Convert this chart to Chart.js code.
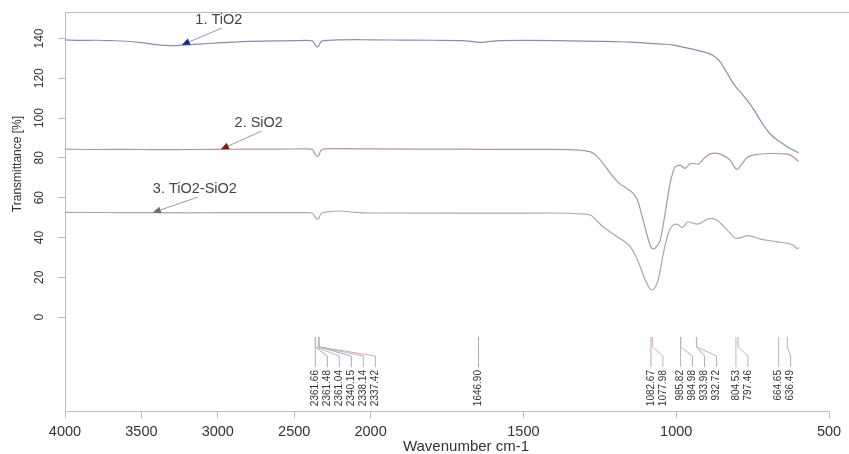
<!DOCTYPE html>
<html>
<head>
<meta charset="utf-8">
<script src="https://cdn.jsdelivr.net/npm/chart.js@4"></script>
<style>
  html, body { margin: 0; padding: 0; background: #fff; }
  #wrap { width: 849px; height: 454px; }
</style>
</head>
<body>
<div id="wrap"><canvas id="ftir"></canvas></div>
<script>
// ---- data ----
const tio2Wn = [4000, 3900, 3800, 3700, 3600, 3500, 3400, 3300, 3200, 3100,
                3000, 2900, 2800, 2700, 2600, 2500, 2420, 2380, 2365, 2350,
                2340, 2325, 2300, 2200, 2100, 2000, 1900, 1800, 1700, 1670,
                1645, 1620, 1590, 1500, 1400, 1300, 1200, 1150, 1100, 1050,
                1010, 944, 900, 882, 856, 835, 814, 790, 768, 745,
                725, 703, 683, 660, 637, 615, 600];
const tio2T  = [139.3, 139.0, 139.1, 138.9, 138.6, 137.9, 136.9, 136.4, 136.8, 137.3,
                137.8, 138.2, 138.5, 138.7, 138.8, 138.9, 139.0, 138.8, 137.0, 135.8,
                136.2, 138.4, 138.9, 139.3, 139.4, 139.3, 139.2, 139.1, 138.9, 138.5,
                138.0, 138.3, 138.8, 139.0, 138.9, 138.7, 138.4, 138.2, 137.7, 137.2,
                136.7, 134.5, 132.8, 131.7, 128.3, 123.0, 117.6, 113.0, 109.0, 104.0,
                99.0, 94.0, 90.6, 88.0, 85.6, 83.8, 82.5];

const sio2Wn = [4000, 3800, 3600, 3400, 3200, 3000, 2800, 2600, 2420, 2380,
                2365, 2350, 2340, 2325, 2300, 2200, 2000, 1800, 1600, 1400,
                1300, 1280, 1260, 1240, 1206, 1183, 1160, 1140, 1127, 1108,
                1095, 1082, 1074, 1064, 1052, 1036, 1020, 1003, 987, 971,
                958, 948, 928, 910, 889, 870, 850, 824, 801, 785,
                768, 748, 693, 637, 618, 600];
const sio2T  = [84.4, 84.2, 84.3, 84.1, 84.2, 84.3, 84.4, 84.4, 84.5, 84.3,
                82.0, 80.8, 81.2, 83.8, 84.5, 84.6, 84.5, 84.4, 84.3, 84.3,
                83.6, 83.0, 81.0, 77.4, 70.5, 66.8, 64.5, 62.0, 58.8, 48.7,
                41.0, 35.0, 34.2, 35.5, 38.7, 52.3, 67.2, 75.5, 76.4, 74.7,
                76.5, 77.2, 76.9, 79.5, 82.0, 82.4, 81.5, 78.9, 74.2, 77.0,
                80.2, 81.4, 82.2, 81.9, 80.6, 78.2];

const mixWn  = [4000, 3600, 3200, 2800, 2420, 2380, 2365, 2350, 2340, 2325,
                2300, 2200, 2100, 2000, 1600, 1400, 1300, 1280, 1240, 1193,
                1150, 1124, 1101, 1080, 1059, 1042, 1026, 1010, 997, 980,
                961, 931, 889, 866, 833, 801, 765, 725, 670, 618,
                603, 598];
const mixT   = [52.6, 52.5, 52.4, 52.5, 52.5, 52.3, 50.5, 49.2, 49.5, 52.0,
                52.6, 53.3, 52.6, 52.3, 52.2, 52.3, 51.7, 51.2, 45.4, 40.4,
                35.3, 27.8, 18.6, 13.6, 18.6, 32.0, 42.0, 46.2, 46.7, 45.0,
                47.9, 46.7, 49.6, 48.7, 43.7, 39.5, 40.9, 39.2, 37.8, 36.2,
                34.4, 35.0];

const seriesNames = ['1. TiO2', '2. SiO2', '3. TiO2-SiO2'];

// labelled peaks and the spectrum each belongs to (0 TiO2, 1 SiO2, 2 TiO2-SiO2)
const peakWn     = [2361.66, 2361.48, 2361.04, 2340.15, 2338.14, 2337.42, 1646.90,
                    1082.67, 1077.98, 985.82, 984.98, 933.98, 932.72,
                    804.53, 797.46, 664.65, 636.49];
const peakSeries = [1, 0, 2, 0, 2, 1, 0,
                    1, 2, 2, 1, 1, 2,
                    2, 1, 2, 1];

const xTicks = [4000, 3500, 3000, 2500, 2000, 1500, 1000, 500];
const yTicks = [0, 20, 40, 60, 80, 100, 120, 140];

// ---- styling ----
const FONT = "'Liberation Sans', Arial, sans-serif";
const AXIS = '#bdbdbd';
const lineColors  = ['#8a8db2', '#b2959b', '#a9a9a9'];
const arrowColors = ['#1f2d8f', '#7f1a1a', '#6f6f6f'];
const peakColors  = ['#a3a8c9', '#cda6ad', '#b8b8b8'];

// label anchor and arrow tip (wavenumber, transmittance) for each series tag
const tagAt = [
  { text: [2993, 149.2], tip: [3235, 136.8] },
  { text: [2732, 97.5],  tip: [2980, 84.3] },
  { text: [3150, 64.3],  tip: [3425, 52.5] }
];

// axis is compressed by 2 above 2000 cm-1
const toU = w => (w > 2000 ? 2000 + (w - 2000) / 2 : w);
const fromU = u => (u > 2000 ? 2000 + (u - 2000) * 2 : u);
const pts = (wn, t) => wn.map((w, i) => ({ x: toU(w), y: t[i] }));

const overlay = {
  id: 'overlay',
  afterDraw(chart) {
    const { ctx, chartArea: a, scales: { x, y } } = chart;
    ctx.save();

    // top frame line
    ctx.strokeStyle = AXIS;
    ctx.lineWidth = 1;
    ctx.beginPath();
    ctx.moveTo(a.left, a.top + 0.5);
    ctx.lineTo(chart.width, a.top + 0.5);
    ctx.stroke();

    // rotated y tick labels
    ctx.fillStyle = '#333';
    ctx.font = '12px ' + FONT;
    ctx.textAlign = 'center';
    ctx.textBaseline = 'middle';
    yTicks.forEach(v => {
      ctx.save();
      ctx.translate(a.left - 25, y.getPixelForValue(v));
      ctx.rotate(-Math.PI / 2);
      ctx.fillText(String(v), 0, 0);
      ctx.restore();
    });

    // axis titles
    ctx.save();
    ctx.translate(18, 164);
    ctx.rotate(-Math.PI / 2);
    ctx.fillText('Transmittance [%]', 0, 0);
    ctx.restore();
    ctx.font = '15px ' + FONT;
    ctx.fillText('Wavenumber cm-1', (a.left + a.right) / 2 + 19, 447);

    // series tags with arrows
    ctx.font = '14.5px ' + FONT;
    ctx.fillStyle = '#444';
    tagAt.forEach((t, i) => {
      const lx = x.getPixelForValue(toU(t.text[0]));
      const ly = y.getPixelForValue(t.text[1]);
      const tx = x.getPixelForValue(toU(t.tip[0]));
      const ty = y.getPixelForValue(t.tip[1]);
      ctx.fillText(seriesNames[i], lx, ly);
      const sx = lx + 3, sy = ly + 8;
      ctx.strokeStyle = '#9a9a9a';
      ctx.beginPath();
      ctx.moveTo(sx, sy);
      ctx.lineTo(tx, ty);
      ctx.stroke();
      const len = Math.hypot(tx - sx, ty - sy);
      const dx = (tx - sx) / len, dy = (ty - sy) / len;
      ctx.fillStyle = arrowColors[i];
      ctx.beginPath();
      ctx.moveTo(tx, ty);
      ctx.lineTo(tx - dx * 8 - dy * 3.5, ty - dy * 8 + dx * 3.5);
      ctx.lineTo(tx - dx * 8 + dy * 3.5, ty - dy * 8 - dx * 3.5);
      ctx.closePath();
      ctx.fill();
      ctx.fillStyle = '#444';
    });

    // peak labels
    const y0 = y.getPixelForValue(-10);
    const y1 = y.getPixelForValue(-15);
    const y2 = y.getPixelForValue(-19.6);
    const y3 = y.getPixelForValue(-25.1);
    const yt = y.getPixelForValue(-26.6);
    ctx.font = '10px ' + FONT;
    ctx.textAlign = 'right';
    let prev = -Infinity;
    peakWn.forEach((w, i) => {
      const px = x.getPixelForValue(toU(w));
      const lx = Math.max(px, prev + 12);
      prev = lx;
      ctx.strokeStyle = peakColors[peakSeries[i]];
      ctx.beginPath();
      ctx.moveTo(px, y0);
      ctx.lineTo(px, y1);
      ctx.lineTo(lx, y2);
      ctx.lineTo(lx, y3);
      ctx.stroke();
      ctx.save();
      ctx.translate(lx, yt);
      ctx.rotate(-Math.PI / 2);
      ctx.fillStyle = '#333';
      ctx.fillText(w.toFixed(2), 0, 0);
      ctx.restore();
    });

    ctx.restore();
  }
};

const spectra = [pts(tio2Wn, tio2T), pts(sio2Wn, sio2T), pts(mixWn, mixT)];

new Chart(document.getElementById('ftir').getContext('2d'), {
  type: 'line',
  data: {
    datasets: spectra.map((d, i) => ({
      label: seriesNames[i],
      data: d,
      borderColor: lineColors[i],
      borderWidth: 1.2,
      pointRadius: 0,
      fill: false,
      cubicInterpolationMode: 'monotone'
    }))
  },
  options: {
    responsive: true,
    maintainAspectRatio: false,
    animation: false,
    layout: { padding: { left: 0, top: 12, right: 20, bottom: 0 } },
    plugins: { legend: { display: false }, tooltip: { enabled: false } },
    scales: {
      x: {
        type: 'linear',
        reverse: true,
        min: 500,
        max: 3000,
        afterBuildTicks: s => { s.ticks = xTicks.map(w => ({ value: toU(w) })); },
        afterFit: s => { s.height = 43; },
        ticks: {
          callback: v => String(fromU(v)),
          color: '#333',
          font: { family: FONT, size: 14.5 },
          padding: 5,
          maxRotation: 0,
          autoSkip: false
        },
        grid: { drawOnChartArea: false, drawTicks: true, tickLength: 7, color: AXIS },
        border: { display: true, color: AXIS }
      },
      y: {
        min: -47.2,
        max: 153.3,
        afterBuildTicks: s => { s.ticks = yTicks.map(v => ({ value: v })); },
        afterFit: s => { s.width = 65; },
        ticks: { display: false },
        grid: { drawOnChartArea: false, drawTicks: true, tickLength: 7, color: AXIS },
        border: { display: true, color: AXIS }
      }
    }
  },
  plugins: [overlay]
});
</script>
</body>
</html>
